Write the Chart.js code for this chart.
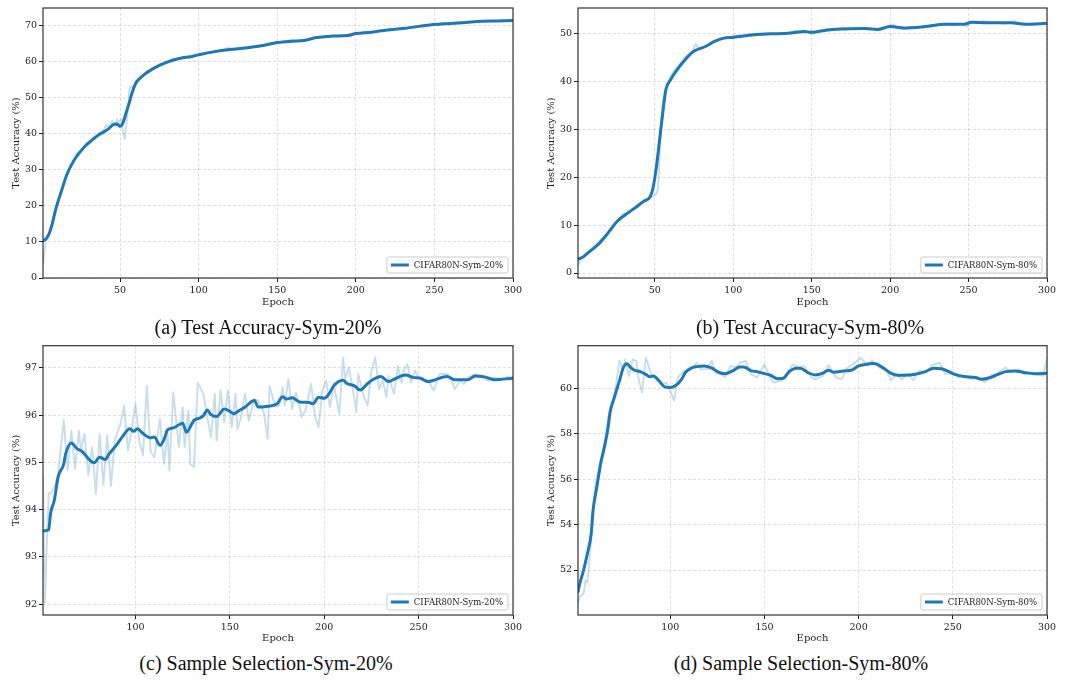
<!DOCTYPE html>
<html>
<head>
<meta charset="utf-8">
<script src="https://cdn.jsdelivr.net/npm/chart.js@4.4.1/dist/chart.umd.min.js"></script>
<style>
  body { margin: 0; background: #fff; width: 1078px; height: 684px; position: relative; overflow: hidden; }
  canvas { position: absolute; }
  .cap { position: absolute; font-family: 'Liberation Serif', 'Times New Roman', serif; font-size: 20px; line-height: 24px;
         color: #111; white-space: nowrap; transform: translateX(-50%); }
</style>
</head>
<body>
<canvas id="chartA" width="539" height="310" style="left:0;top:0"></canvas>
<canvas id="chartB" width="539" height="310" style="left:539px;top:0"></canvas>
<canvas id="chartC" width="539" height="310" style="left:0;top:338px"></canvas>
<canvas id="chartD" width="539" height="310" style="left:539px;top:338px"></canvas>
<div class="cap" style="left:268px;top:315px">(a) Test Accuracy-Sym-20%</div>
<div class="cap" style="left:810px;top:315px">(b) Test Accuracy-Sym-80%</div>
<div class="cap" style="left:266px;top:651px">(c) Sample Selection-Sym-20%</div>
<div class="cap" style="left:801px;top:651px">(d) Sample Selection-Sym-80%</div>
<script>
'use strict';

// ── (a) Test Accuracy, Sym-20% ──
const aSmoothEp = [1,3,5,7,9,11,13,16,19,22,25,28,31,34,37,40,43,46,48,50,52,54,56,58,60,62,65,70,75,80,85,90,95,100,110,120,130,140,150,160,167,175,185,195,200,210,220,230,240,250,260,270,280,290,300];
const aSmooth   = [10.3,10.9,12.4,15.2,18.9,21.8,24.5,28.5,31.3,33.5,35.2,36.7,37.8,38.9,39.9,40.6,41.5,42.6,42.7,42.1,43.2,46,48.8,51.8,54,55.1,56.3,57.8,59,59.9,60.6,61.1,61.4,61.9,62.8,63.4,63.8,64.4,65.3,65.7,65.9,66.7,67.1,67.3,67.8,68.2,68.8,69.2,69.8,70.3,70.6,70.9,71.2,71.3,71.4];
const aRawEp = [1,2,3,5,8,11,14,17,20,23,26,29,32,35,38,40,41,43,45,47,48,49,50,51,52,53,54,55,56,57,58,60,63,66,70,75,80,84,86,90,95,98,100,105,110,115,119,122,126,130,134,138,142,146,150,155,159,163,168,172,176,180,185,190,195,200,205,210,215,220,225,230,235,240,245,250,255,260,265,270,275,280,285,290,295,300];
const aRaw   = [3.4,7.5,10.8,12.0,17.8,22.3,26,29.5,31.8,34.6,35.4,37.2,38.4,39.6,40.5,41.2,42.5,41.8,43.6,42.4,44,42.8,43.8,44.1,40.2,38.6,42.5,46.5,52.5,53.2,52.8,54.8,55.8,56.9,57.9,59.2,59.7,60.9,60.4,61.3,61.5,62.2,61.8,62.4,62.7,63.1,63.9,63.3,63.6,63.9,64.1,64.2,64.7,65.1,65.2,65.6,66.1,65.8,65.8,66.5,66.8,67,67.1,67.3,67.2,67.8,68.2,68.2,68.5,68.8,69.1,69.2,69.5,69.9,70.2,70.3,70.7,70.6,70.8,70.9,71.1,71.2,71.3,71.3,71.5,71.4];

// ── (b) Test Accuracy, Sym-80% ──
const bSmoothEp = [1,4,7,14,20,26,31,37,43,47,49,51,53,55,57,60,64,69,75,82,88,94,100,113,124,135,145,150,160,171,184,192,200,209,222,235,247,252,262,277,286,300];
const bSmooth   = [2.9,3.3,4.1,6,8.3,10.8,12.1,13.5,15,15.9,18,22.2,27.7,33.3,38.2,40.3,42.3,44.4,46.3,47.2,48.3,49,49.2,49.7,49.9,50,50.4,50.2,50.7,50.9,51,50.8,51.4,51.1,51.4,51.9,51.9,52.3,52.2,52.2,51.9,52.1];
const bRawEp = [1,3,6,10,14,18,22,26,28,30,33,36,40,44,47,49,51,52,53,54,55,56,57,59,62,65,70,74,76,78,82,86,90,95,100,105,110,115,120,125,130,135,140,143,146,150,152,156,160,165,170,175,180,185,190,195,199,202,205,208,212,218,222,228,232,236,240,245,249,252,256,260,264,268,272,276,279,282,286,290,295,300];
const bRaw   = [1.5,3.0,4.0,5.3,6.5,7.6,9.0,10.9,11.6,12.4,12.6,13.4,14.0,15.0,15.8,16.0,16.6,17.5,24,32,35.5,37,38.5,40,42.2,43.2,45.2,46.2,47.8,46.8,47.3,48,48.5,49.1,49,49.4,49.5,49.6,49.7,49.8,49.9,50.1,50.6,50.0,50.5,49.8,50.3,50.6,50.9,50.8,51.3,50.9,51.1,51.1,50.8,51,51.6,51.8,51.2,50.8,51.2,51.3,51.2,51.5,51.9,52,51.6,52,51.4,52.5,52.1,52.6,52.2,52.3,52.0,52.2,52.7,52.1,51.8,52,51.9,52.1];

// ── (c) Sample Selection, Sym-20% ──
const cSmoothEp = [51,54,55,57,59,62,63,66,69,72,75,78,81,84,86,90,93,97,99,101,104,108,110,113,115,117,120,125,127,131,134,136,138,140,143,147,150,152,155,158,163,165,170,175,178,180,183,187,192,194,197,200,203,205,210,212,216,219,223,226,230,234,237,243,247,251,255,258,265,269,276,280,285,290,300];
const cSmooth   = [93.55,93.57,93.92,94.2,94.69,94.97,95.18,95.41,95.29,95.22,95.08,94.99,95.11,95.06,95.18,95.37,95.54,95.71,95.66,95.71,95.61,95.52,95.54,95.36,95.47,95.69,95.73,95.83,95.64,95.89,95.94,95.99,96.11,96.01,95.97,96.13,96.08,96.03,96.1,96.17,96.31,96.17,96.19,96.24,96.39,96.34,96.37,96.28,96.27,96.24,96.38,96.36,96.48,96.62,96.74,96.67,96.62,96.53,96.67,96.76,96.82,96.71,96.76,96.85,96.8,96.78,96.71,96.74,96.82,96.75,96.75,96.83,96.81,96.75,96.78];
const cRawEp = [51,52,53,54,55,57,59,62,64,66,68,70,71,73,75,77,79,81,83,85,87,89,92,94,96,98,100,102,104,106,108,110,113,115,117,118,120,123,125,126,128,129,131,133,136,138,140,142,143,145,147,149,151,153,154,156,158,160,163,165,168,170,171,174,176,178,179,181,183,185,187,188,190,193,195,197,199,201,203,205,208,210,211,213,215,217,218,221,223,225,227,229,231,233,234,237,239,241,242,244,246,248,250,252,255,258,261,265,267,269,272,274,276,280,283,287,290,294,297,300];
const cRaw   = [94.73,92.03,93.22,94.35,94.34,94.48,94.76,95.9,94.83,95.67,94.87,95.67,95.25,95.6,94.73,95.32,94.34,95.59,94.52,95.57,94.5,95.46,95.81,96.2,95.25,95.71,96.24,95.46,95.15,96.62,95.22,95.11,95.92,94.97,95.6,94.83,96.48,95.32,96.17,95.32,96.1,94.97,94.9,96.69,96.45,95.96,95.53,96.45,95.46,96.53,95.85,96.53,95.74,96.45,95.71,95.96,96.45,95.88,96.34,96.31,96.06,95.5,96.62,96.17,96.2,96.59,96.2,96.76,96.13,96.48,96.17,95.96,96.1,96.66,95.99,95.74,96.52,96.73,96.17,96.66,96.03,97.22,96.76,97.01,96.59,96.06,96.87,96.38,96.2,96.94,97.22,96.55,96.73,96.38,96.83,96.45,97.04,96.69,96.94,97.08,96.69,96.94,96.8,96.76,96.73,96.52,96.87,96.87,96.8,96.55,96.73,96.66,96.8,96.87,96.8,96.73,96.8,96.76,96.81,96.8];

// ── (d) Sample Selection, Sym-80% ──
const dSmoothEp = [51,52,54,56,58,59,61,63,65,67,68,70,73,75,77,79,81,84,87,89,91,94,97,100,103,106,108,111,114,118,122,126,129,133,137,139,143,146,150,153,157,160,163,167,169,173,177,181,184,187,192,196,200,204,207,209,213,217,221,224,230,235,240,244,247,251,256,262,265,270,274,278,283,288,293,300];
const dSmooth   = [51.05,51.42,52,52.73,53.6,54.63,55.65,56.67,57.4,58.28,58.93,59.52,60.32,60.9,61.08,60.9,60.79,60.73,60.61,60.5,60.54,60.32,60.06,60.03,60.13,60.39,60.69,60.88,60.95,60.98,60.88,60.69,60.64,60.76,60.93,60.93,60.76,60.73,60.64,60.58,60.42,60.44,60.72,60.88,60.88,60.69,60.58,60.66,60.79,60.7,60.76,60.79,60.98,61.05,61.09,61.08,60.9,60.66,60.57,60.57,60.61,60.72,60.88,60.86,60.76,60.61,60.51,60.47,60.39,60.47,60.61,60.73,60.76,60.69,60.64,60.66];
const dRawEp = [51,52,54,55,56,58,60,63,65,67,70,73,75,76,78,80,82,83,85,87,89,90,93,96,98,100,102,104,107,111,114,116,119,122,124,127,129,132,135,137,140,143,146,150,153,155,159,161,165,168,171,175,177,181,184,188,191,194,198,201,205,207,211,215,217,220,223,226,229,232,236,239,243,246,249,253,256,260,263,267,270,274,278,281,285,288,292,295,298,300];
const dRaw   = [50.54,50.83,50.98,51.56,51.45,53.31,55.65,56.82,57.55,58.72,59.45,61.2,60.76,61.27,60.54,61.27,61.2,60.47,59.81,61.34,60.83,60.61,60.47,60.18,60.25,59.88,59.45,60.47,60.76,60.83,61.12,60.83,60.83,61.2,60.69,60.61,60.47,60.98,60.91,61.12,61.2,60.61,60.47,61.05,60.47,60.25,60.32,60.5,61.05,60.91,60.98,60.47,60.39,60.54,61.02,60.47,60.39,60.91,61.12,61.34,60.98,61.23,60.91,60.76,60.35,60.61,60.39,60.64,60.35,60.76,60.69,61.02,61.12,60.61,60.76,60.47,60.54,60.39,60.5,60.25,60.54,60.69,60.91,60.69,60.83,60.61,60.69,60.61,60.54,61.3];

const xTicksFull = [50,100,150,200,250,300];
const xTicksLate = [100,150,200,250,300];
const aYTicks = [0,10,20,30,40,50,60,70];
const bYTicks = [0,10,20,30,40,50];
const cYTicks = [92,93,94,95,96,97];
const dYTicks = [52,54,56,58,60];

const BLUE = '#1f77b4';
const RAW = 'rgba(31,119,180,0.25)';
const GRID = 'rgba(0,0,0,0.16)';
const INK = '#1a1a1a';

Chart.defaults.font.family = "'DejaVu Serif', serif";

const pts = (xs, ys) => xs.map((x, i) => ({ x: x, y: ys[i] }));

// matplotlib-like frame round the plot area
const frame = {
  id: 'frame',
  afterDatasetsDraw(chart) {
    const a = chart.chartArea, ctx = chart.ctx;
    ctx.save();
    ctx.strokeStyle = '#333';
    ctx.lineWidth = 1.2;
    ctx.strokeRect(a.left, a.top, a.right - a.left, a.bottom - a.top);
    ctx.restore();
  }
};

// legend box in the lower right corner
const legendBox = {
  id: 'legendBox',
  afterDraw(chart) {
    const a = chart.chartArea, ctx = chart.ctx;
    const ds = chart.data.datasets[0];
    ctx.save();
    ctx.font = "8.5px 'DejaVu Serif'";
    const tw = ctx.measureText(ds.label).width;
    const w = 27 + tw + 5, h = 16;
    const x = a.right - 5 - w, y = a.bottom - 5 - h;
    ctx.beginPath();
    ctx.roundRect(x, y, w, h, 2);
    ctx.fillStyle = 'rgba(255,255,255,0.85)';
    ctx.fill();
    ctx.strokeStyle = '#cccccc';
    ctx.lineWidth = 1;
    ctx.stroke();
    ctx.strokeStyle = ds.borderColor;
    ctx.lineWidth = 3;
    ctx.beginPath();
    ctx.moveTo(x + 4, y + h / 2);
    ctx.lineTo(x + 22, y + h / 2);
    ctx.stroke();
    ctx.fillStyle = INK;
    ctx.textBaseline = 'middle';
    ctx.fillText(ds.label, x + 27, y + h / 2 + 0.5);
    ctx.restore();
  }
};

function makePanel(id, p) {
  return new Chart(document.getElementById(id), {
    type: 'line',
    plugins: [frame, legendBox],
    data: {
      datasets: [
        { label: p.label, data: pts(p.smoothEp, p.smooth), borderColor: BLUE, borderWidth: 3,
          pointRadius: 0, cubicInterpolationMode: 'monotone', borderJoinStyle: 'round', borderCapStyle: 'round', order: 0 },
        { label: 'raw', data: pts(p.rawEp, p.raw), borderColor: RAW, borderWidth: 1.9,
          pointRadius: 0, tension: 0, borderJoinStyle: 'round', order: 1 }
      ]
    },
    options: {
      responsive: false,
      animation: false,
      devicePixelRatio: 1,
      layout: { padding: { left: 0, right: p.padRight, top: p.padTop, bottom: 0 } },
      plugins: { legend: { display: false }, tooltip: { enabled: false } },
      scales: {
        x: {
          type: 'linear', min: p.xMin, max: 300,
          afterBuildTicks: s => { s.ticks = p.xTicks.map(v => ({ value: v })); },
          afterFit: s => { s.height = p.xAxisH; },
          ticks: { autoSkip: false, maxRotation: 0, padding: 3, color: INK, font: { size: 9.5 } },
          grid: { color: GRID, lineWidth: 0.8, tickLength: 4, tickColor: INK, tickWidth: 1, tickBorderDash: [] },
          border: { display: false, dash: [3, 2] },
          title: { display: true, text: 'Epoch', color: INK, font: { size: 10 }, padding: { top: 0, bottom: p.xTitlePad } }
        },
        y: {
          type: 'linear', min: p.yMin, max: p.yMax,
          afterBuildTicks: s => { s.ticks = p.yTicks.map(v => ({ value: v })); },
          afterFit: s => { s.width = p.yAxisW; },
          ticks: { autoSkip: false, padding: 2, color: INK, font: { size: 9.5 } },
          grid: { color: GRID, lineWidth: 0.8, tickLength: 4, tickColor: INK, tickWidth: 1, tickBorderDash: [] },
          border: { display: false, dash: [3, 2] },
          title: { display: true, text: 'Test Accuracy (%)', color: INK, font: { size: 10 }, padding: { top: p.yTitlePad, bottom: 0 } }
        }
      }
    }
  });
}

makePanel('chartA', { label: 'CIFAR80N-Sym-20%', smoothEp: aSmoothEp, smooth: aSmooth, rawEp: aRawEp, raw: aRaw,
  xMin: 1, xTicks: xTicksFull, yMin: 0, yMax: 74.9, yTicks: aYTicks,
  yAxisW: 43, padRight: 26, padTop: 8, xAxisH: 32, yTitlePad: 10, xTitlePad: 2 });
makePanel('chartB', { label: 'CIFAR80N-Sym-80%', smoothEp: bSmoothEp, smooth: bSmooth, rawEp: bRawEp, raw: bRaw,
  xMin: 1, xTicks: xTicksFull, yMin: -1.04, yMax: 55.28, yTicks: bYTicks,
  yAxisW: 39, padRight: 31, padTop: 8, xAxisH: 32, yTitlePad: 6, xTitlePad: 2 });
makePanel('chartC', { label: 'CIFAR80N-Sym-20%', smoothEp: cSmoothEp, smooth: cSmooth, rawEp: cRawEp, raw: cRaw,
  xMin: 51, xTicks: xTicksLate, yMin: 91.77, yMax: 97.47, yTicks: cYTicks,
  yAxisW: 43, padRight: 26, padTop: 7, xAxisH: 33, yTitlePad: 10, xTitlePad: 4 });
makePanel('chartD', { label: 'CIFAR80N-Sym-80%', smoothEp: dSmoothEp, smooth: dSmooth, rawEp: dRawEp, raw: dRaw,
  xMin: 51, xTicks: xTicksLate, yMin: 50.02, yMax: 61.87, yTicks: dYTicks,
  yAxisW: 39, padRight: 31, padTop: 7, xAxisH: 33, yTitlePad: 6, xTitlePad: 4 });
</script>
</body>
</html>
